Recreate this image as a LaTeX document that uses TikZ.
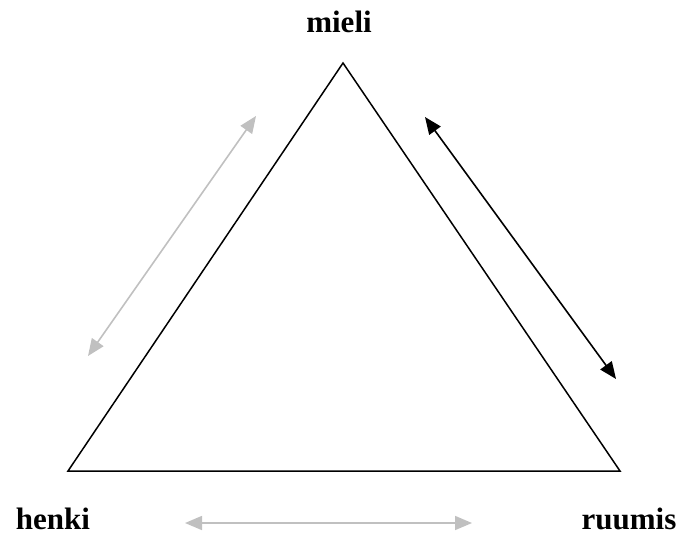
\documentclass[tikz,border=0pt]{standalone}
\usepackage{fontspec}
\setmainfont{Liberation Serif}
\usetikzlibrary{arrows.meta}
\definecolor{lightgrey}{RGB}{192,192,192}
\tikzset{
  lbl/.style={font=\bfseries\fontsize{31}{31}\selectfont, anchor=base, inner sep=0pt},
  edge/.style={line width=1.5pt, black},
  dblarrow/.style={line width=1.6pt, {Triangle[length=17pt,width=14pt]}-{Triangle[length=17pt,width=14pt]}},
}
\begin{document}
\begin{tikzpicture}[x=1pt,y=-1pt]
\useasboundingbox (0,0) rectangle (679,535);
\coordinate (top) at (343,63);
\coordinate (bl) at (68,471);
\coordinate (br) at (620,471);
\draw[edge, line join=miter] (top) -- (br) -- (bl) -- cycle;
\node[lbl] (mieli) at (339,33) {mieli};
\node[lbl] (henki) at (53,529) {henki};
\node[lbl] (ruumis) at (629,529) {ruumis};
\coordinate (a1) at (425,117);
\coordinate (a2) at (616,379);
\draw[dblarrow, black] (a1) -- (a2);
\coordinate (g1) at (256,116);
\coordinate (g2) at (88,356);
\draw[dblarrow, lightgrey] (g1) -- (g2);
\coordinate (h1) at (185,523);
\coordinate (h2) at (472,523);
\draw[dblarrow, lightgrey] (h1) -- (h2);
\end{tikzpicture}
\end{document}
